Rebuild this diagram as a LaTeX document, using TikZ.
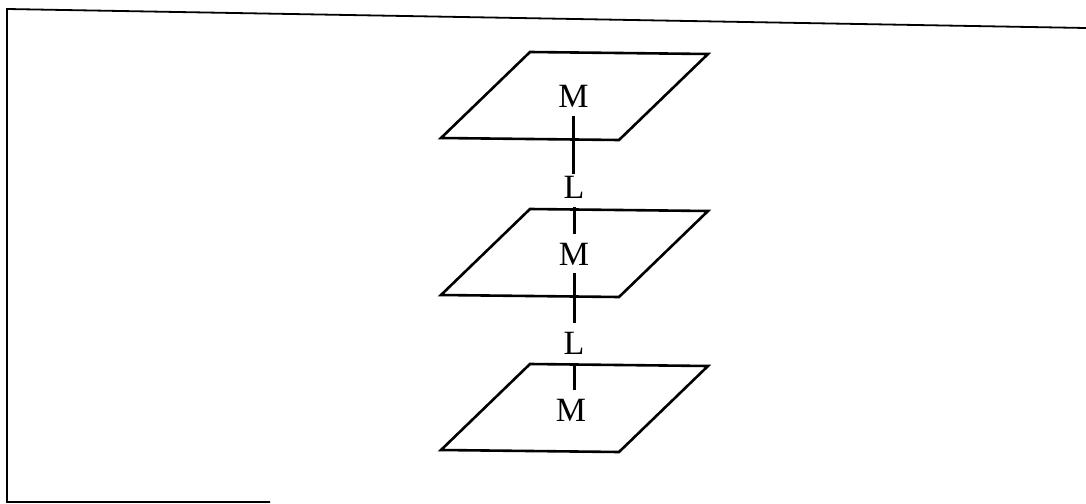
\documentclass[tikz,border=0pt]{standalone}
\usepackage{fontspec}
\setmainfont{Liberation Serif}
\usetikzlibrary{positioning}

\begin{document}
\begin{tikzpicture}[
  x=1pt, y=-1pt,
  plane/.style={line width=2.6pt, line join=miter},
  lbl/.style={font=\fontsize{34}{40}\selectfont, inner sep=0pt},
  link/.style={line width=3pt, shorten <=9pt, shorten >=9pt},
  frame/.style={line width=1.8pt},
]
\useasboundingbox (0,0) rectangle (1086,503);

\draw[frame] (1086,28) -- (7,9) -- (7,502) -- (270,502);

\foreach \t in {52,209,364}
  \draw[plane] (530,\t) -- (708,\t+2) -- (619,\t+88) -- (441,\t+86) -- cycle;

\node[lbl] (m1) at (573.5,96) {M};
\node[lbl] (l1) at (574,187) {L};
\node[lbl] (m2) at (574,254.5) {M};
\node[lbl] (l2) at (574,343.5) {L};
\node[lbl] (m3) at (571,410) {M};

\draw[link, shorten >=2pt] (m1.south) -- (m1.south |- l1.north);
\draw[link] (l1.south) -- (l1.south |- m2.north);
\draw[link, shorten <=7pt] (m2.south) -- (m2.south |- l2.north);
\draw[link] (l2.south) -- (l2.south |- m3.north);
\end{tikzpicture}
\end{document}
